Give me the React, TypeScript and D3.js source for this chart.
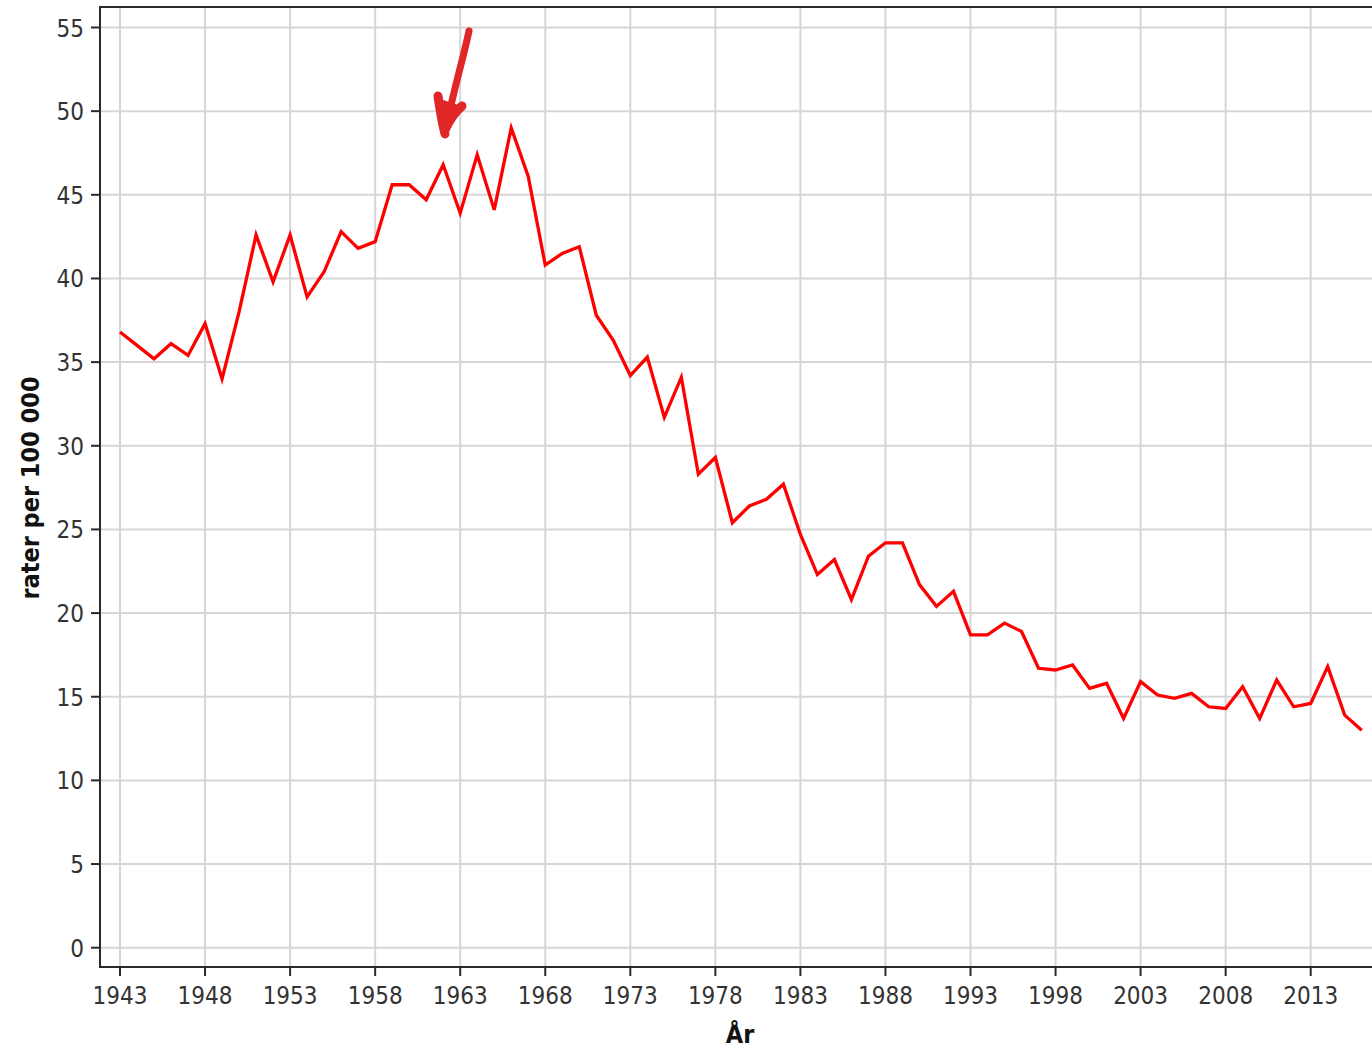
import React from "react";
import * as d3 from "d3";

const years: number[] = d3.range(1943, 2017);
const rates: number[] = [
  36.8, 36.0, 35.2, 36.1, 35.4, 37.3, 34.0, 38.0, 42.6, 39.8,
  42.6, 38.9, 40.4, 42.8, 41.8, 42.2, 45.6, 45.6, 44.7, 46.8,
  43.9, 47.4, 44.1, 49.0, 46.1, 40.8, 41.5, 41.9, 37.8, 36.3,
  34.2, 35.3, 31.7, 34.1, 28.3, 29.3, 25.4, 26.4, 26.8, 27.7,
  24.7, 22.3, 23.2, 20.8, 23.4, 24.2, 24.2, 21.7, 20.4, 21.3,
  18.7, 18.7, 19.4, 18.9, 16.7, 16.6, 16.9, 15.5, 15.8, 13.7,
  15.9, 15.1, 14.9, 15.2, 14.4, 14.3, 15.6, 13.7, 16.0, 14.4,
  14.6, 16.8, 13.9, 13.0,
];
const xTicks: number[] = [1943, 1948, 1953, 1958, 1963, 1968, 1973, 1978, 1983, 1988, 1993, 1998, 2003, 2008, 2013];
const yTicks: number[] = [0, 5, 10, 15, 20, 25, 30, 35, 40, 45, 50, 55];
const xTitle = "År";
const yTitle = "rater per 100 000";

const W = 1372;
const H = 1048;
const left = 100;
const top = 7;
const bottom = 967;
const right = 1390;

export default function App() {
  const x = d3.scaleLinear().domain([1943, 2013]).range([120, 1310.7]);
  const y = d3.scaleLinear().domain([0, 55]).range([947.7, 27.5]);
  const data = years.map((yr, i) => ({ yr, v: rates[i] }));
  const line = d3
    .line<{ yr: number; v: number }>()
    .x((d) => x(d.yr))
    .y((d) => y(d.v));
  const font = "'DejaVu Sans Condensed', 'DejaVu Sans', Verdana, sans-serif";
  const textColor = "#333";

  return (
    <svg
      width={W}
      height={H}
      style={{ position: "absolute", left: 0, top: 0, display: "block", background: "#fff" }}
    >
      <rect x={0} y={0} width={W} height={H} fill="#fff" />
      {xTicks.map((t) => (
        <line key={"gx" + t} x1={x(t)} x2={x(t)} y1={top} y2={bottom} stroke="#d6d6d6" strokeWidth={2} />
      ))}
      {yTicks.map((t) => (
        <line key={"gy" + t} x1={left} x2={right} y1={y(t)} y2={y(t)} stroke="#d6d6d6" strokeWidth={2} />
      ))}
      <rect x={left} y={top} width={right - left} height={bottom - top} fill="none" stroke="#2a2a2a" strokeWidth={2} />
      {yTicks.map((t) => (
        <g key={"ty" + t}>
          <line x1={left - 9} x2={left} y1={y(t)} y2={y(t)} stroke="#2a2a2a" strokeWidth={2} />
          <text x={84} y={y(t) + 9} textAnchor="end" fontFamily={font} fontSize={24} fill={textColor}>
            {t}
          </text>
        </g>
      ))}
      {xTicks.map((t) => (
        <g key={"tx" + t}>
          <line x1={x(t)} x2={x(t)} y1={bottom} y2={bottom + 9} stroke="#2a2a2a" strokeWidth={2} />
          <text x={x(t)} y={1004} textAnchor="middle" fontFamily={font} fontSize={24} fill={textColor}>
            {t}
          </text>
        </g>
      ))}
      <path d={line(data) || ""} fill="none" stroke="#ff0000" strokeWidth={3.3} strokeLinejoin="miter" />
      <g stroke="#e02626" strokeLinecap="round" strokeLinejoin="round" fill="none">
        <path d="M469,31 C463,60 452,95 445,134" strokeWidth={7} />
        <path d="M438,96 C440,110 442,122 445,134" strokeWidth={9} />
        <path d="M462,106 C455,112 449,121 445,130" strokeWidth={9} />
        <path d="M440,102 L458,108 L446,124 Z" strokeWidth={6} fill="#e02626" />
      </g>
      <text x={740} y={1043} textAnchor="middle" fontFamily={font} fontSize={25} fontWeight="bold" fill="#111">
        {xTitle}
      </text>
      <text
        transform={`translate(39,488) rotate(-90)`}
        textAnchor="middle"
        fontFamily={font}
        fontSize={25}
        fontWeight="bold"
        fill="#111"
      >
        {yTitle}
      </text>
    </svg>
  );
}
